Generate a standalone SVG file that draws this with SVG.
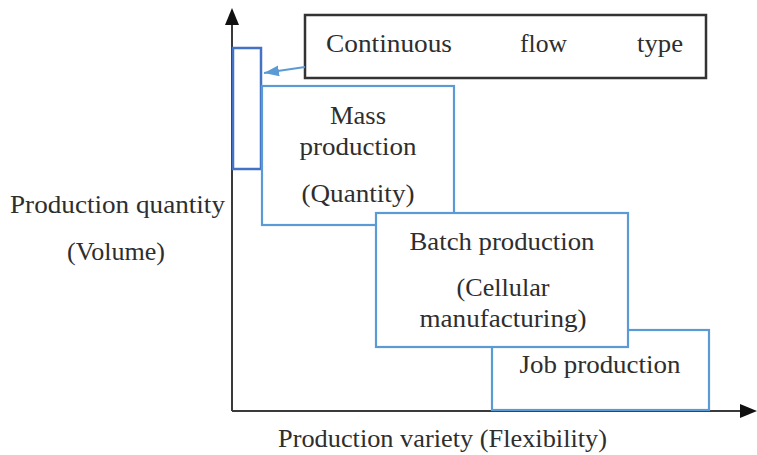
<svg xmlns="http://www.w3.org/2000/svg" width="757" height="455" viewBox="0 0 757 455">
<defs>
<style>
.t{font-family:"Liberation Serif","Times New Roman",serif;font-size:25px;fill:#2e2e2e}
.box{fill:#fff;stroke:#5B9BD5;stroke-width:2.2}
.axis{stroke:#3a3a3a;stroke-width:2;fill:none}
</style>
<marker id="bh" viewBox="0 0 15 11" refX="15" refY="5.5" markerWidth="15" markerHeight="11" markerUnits="userSpaceOnUse" orient="auto">
<path d="M0,0 L15,5.5 L0,11 z" fill="#5B9BD5"/>
</marker>
</defs>
<rect width="757" height="455" fill="#fff"/>
<g id="axes">
<path class="axis" d="M232,411 L232,10"/>
<path class="axis" d="M232,411 L751,411"/>
<path d="M225,25 L232,8 L239,25 z" fill="#111"/>
<path d="M740,404 L757,411 L740,418 z" fill="#111"/>
</g>
<g id="continuous-flow">
<rect x="305" y="15" width="401" height="63" fill="#fff" stroke="#333" stroke-width="2.5"/>
<text class="t" x="326" y="52" textLength="126" lengthAdjust="spacingAndGlyphs">Continuous</text>
<text class="t" x="520" y="52" textLength="47" lengthAdjust="spacingAndGlyphs">flow</text>
<text class="t" x="637" y="52" textLength="46" lengthAdjust="spacingAndGlyphs">type</text>
</g>
<g id="continuous-bar">
<rect x="233" y="48" width="28" height="121" fill="none" stroke="#4472C4" stroke-width="2.5"/>
</g>
<g id="mass">
<rect class="box" x="262" y="86" width="192" height="139"/>
<text class="t" x="358" y="124" text-anchor="middle" textLength="56" lengthAdjust="spacingAndGlyphs">Mass</text>
<text class="t" x="358" y="155" text-anchor="middle" textLength="117" lengthAdjust="spacingAndGlyphs">production</text>
<text class="t" x="358" y="202" text-anchor="middle" textLength="113" lengthAdjust="spacingAndGlyphs">(Quantity)</text>
</g>
<g id="job">
<rect class="box" x="492" y="330" width="217" height="80"/>
<text class="t" x="600" y="373" text-anchor="middle" textLength="161" lengthAdjust="spacingAndGlyphs">Job production</text>
</g>
<g id="batch">
<rect class="box" x="376" y="213" width="252" height="134"/>
<text class="t" x="502" y="250" text-anchor="middle" textLength="185" lengthAdjust="spacingAndGlyphs">Batch production</text>
<text class="t" x="503" y="296" text-anchor="middle" textLength="93" lengthAdjust="spacingAndGlyphs">(Cellular</text>
<text class="t" x="503" y="327" text-anchor="middle" textLength="167" lengthAdjust="spacingAndGlyphs">manufacturing)</text>
</g>
<g id="connectors">
<line x1="305" y1="67" x2="264" y2="73" stroke="#5B9BD5" stroke-width="2" marker-end="url(#bh)"/>
</g>
<g id="labels">
<text class="t" x="10" y="213" textLength="215" lengthAdjust="spacingAndGlyphs">Production quantity</text>
<text class="t" x="116" y="260" text-anchor="middle" textLength="98" lengthAdjust="spacingAndGlyphs">(Volume)</text>
<text class="t" x="278" y="447" textLength="329" lengthAdjust="spacingAndGlyphs">Production variety (Flexibility)</text>
</g>
</svg>
